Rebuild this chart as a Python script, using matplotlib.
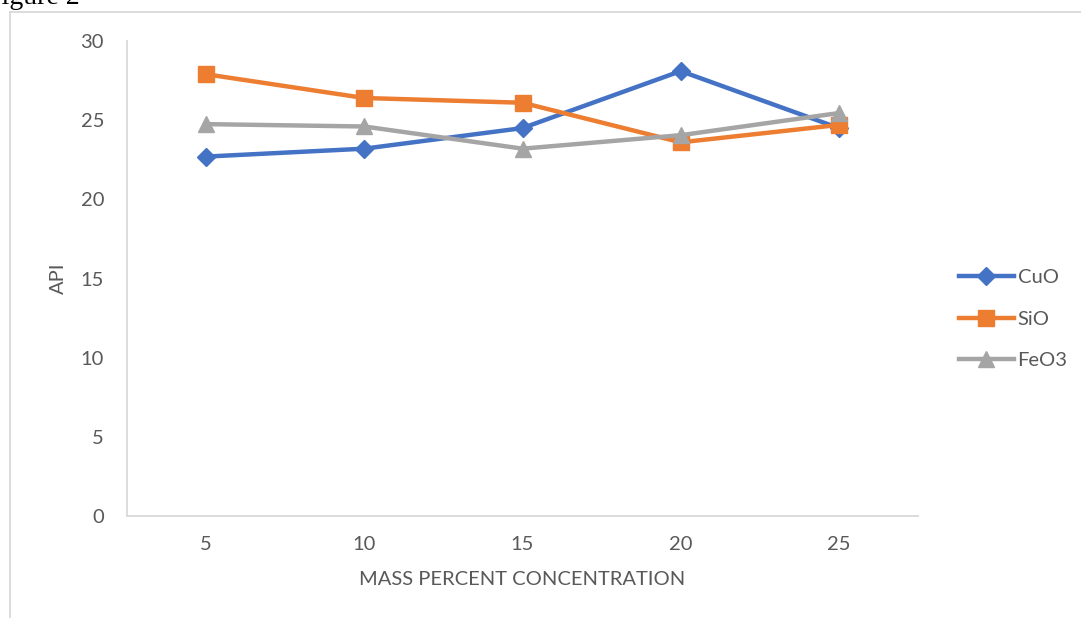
import matplotlib.pyplot as plt
from matplotlib.lines import Line2D

conc = ['5', '10', '15', '20', '25']
cuo = [22.7, 23.2, 24.5, 28.1, 24.5]
sio = [27.9, 26.4, 26.1, 23.6, 24.7]
feo3 = [24.75, 24.6, 23.2, 24.05, 25.45]

plt.rcParams['font.family'] = ['Lato', 'DejaVu Sans']

fig = plt.figure(figsize=(10.81, 6.18), dpi=100)
ax = fig.add_axes([127/1081, 1 - 516/618, (918 - 127)/1081, (516 - 41)/618])

x = range(len(conc))
ax.plot(x, cuo, c='#4472C4', lw=3.2, marker='D', ms=9, label='CuO', zorder=3)
ax.plot(x, sio, c='#ED7D31', lw=3.2, marker='s', ms=11, label='SiO', zorder=3)
ax.plot(x, feo3, c='#A5A5A5', lw=3.2, marker='^', ms=12, label='FeO3', zorder=3)

ax.set_xlim(-0.5, 4.5)
ax.set_ylim(0, 30)
ax.set_yticks(range(0, 31, 5))
ax.set_xticks(list(x))
ax.set_xticklabels(conc)
ax.tick_params(length=0, labelsize=14.5, labelcolor='#595959')
ax.tick_params(axis='y', pad=16.5)
ax.tick_params(axis='x', pad=14.5)
for s in ['top', 'right']:
    ax.spines[s].set_visible(False)
for s in ['left', 'bottom']:
    ax.spines[s].set_color('#d9d9d9')
    ax.spines[s].set_linewidth(1.3)

ax.set_xlabel('MASS PERCENT CONCENTRATION', fontsize=14.5, color='#595959', labelpad=13)
ax.set_ylabel('API', fontsize=14.5, color='#595959', labelpad=10)

ax.legend(loc='center left', bbox_to_anchor=(941/1081, 1 - 319/618),
          bbox_transform=fig.transFigure, frameon=False, fontsize=14.5,
          labelcolor='#595959', handlelength=2.7, handletextpad=0.2,
          labelspacing=1.2)

# page frame and cut-off caption
fig.add_artist(Line2D([10/1081, 10/1081], [0, 1 - 12/618], transform=fig.transFigure,
                      c='#d9d9d9', lw=1.3))
fig.add_artist(Line2D([10/1081, 1], [1 - 12/618, 1 - 12/618], transform=fig.transFigure,
                      c='#d9d9d9', lw=1.3))
fig.text(80/1081, 1 - 4/618, 'Figure 2', family='Liberation Serif', fontsize=20,
         ha='right', va='baseline')

fig.savefig('out.png', dpi=100)
